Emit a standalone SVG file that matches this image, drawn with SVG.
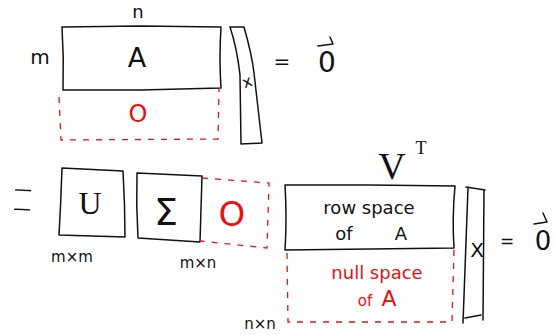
<svg xmlns="http://www.w3.org/2000/svg" width="554" height="335" viewBox="0 0 554 335">
<style>
.k{fill:none;stroke:#111;stroke-width:1.5;stroke-linejoin:round;stroke-linecap:round}
.r{fill:none;stroke:#e81010;stroke-width:1.3;stroke-dasharray:6 7}
.t{font-family:"DejaVu Sans","Liberation Sans",sans-serif;fill:#111;text-anchor:middle}
.tr{font-family:"DejaVu Sans","Liberation Sans",sans-serif;fill:#e81010;text-anchor:middle}
.s{font-family:"Liberation Serif",serif;fill:#111;text-anchor:middle}
</style>
<rect width="554" height="335" fill="#fff"/>
<g id="top-A">
<path class="k" d="M62,27 L140,26 L221,27 Q219,58 221,88 L140,90 L63,90 Q64,58 62,27 Z"/>
<text class="t" x="138" y="18" font-size="18">n</text>
<text class="t" x="40" y="64" font-size="20">m</text>
<text class="t" x="137" y="67" font-size="27">A</text>
</g>
<g id="top-zero-block">
<path class="r" d="M59,97 L61,140 L218,139 L219,88"/>
<text class="tr" x="138" y="122" font-size="24">O</text>
</g>
<g id="top-x">
<path class="k" d="M230,27 L244,27 Q252,55 254,73 L262,143 L241,144 L240,75 Q237,48 230,27 Z"/>
<text class="t" x="0" y="0" font-size="16" transform="translate(249,87) rotate(-20)">x</text>
</g>
<g id="top-eq">
<text class="t" x="282" y="68" font-size="20">=</text>
<text class="t" x="327" y="72" font-size="28">0</text>
<path class="k" d="M318,46 L333,44 L330,37"/>
</g>
<g id="eq2">
<text class="t" x="0" y="0" font-size="96" stroke="#fff" stroke-width="6.5" transform="translate(21,230) rotate(3) scale(0.3,1)">=</text>
</g>
<g id="U">
<path class="k" d="M62,168 L123,171 Q125,205 125,237 L59,235 Q61,200 62,168 Z"/>
<text class="s" x="90" y="214" font-size="32">U</text>
<text class="t" x="72" y="262" font-size="15">m×m</text>
</g>
<g id="Sigma">
<path class="k" d="M137,173 L202,176 Q201,210 200,242 L138,238 Q136,205 137,173 Z"/>
<text class="t" x="166" y="225" font-size="38">Σ</text>
<text class="t" x="198" y="268" font-size="15">m×n</text>
</g>
<g id="Sigma-zero">
<path class="r" d="M202,178 L269,183 L267,248 L200,241"/>
<text class="tr" x="232" y="226" font-size="34">O</text>
</g>
<g id="VT">
<text class="s" x="392" y="179" font-size="38">V</text>
<text class="s" x="421" y="154" font-size="18">T</text>
<path class="k" d="M285,185 L370,185 L455,186 Q452,218 454,248 L370,249 L285,250 Q287,218 285,185 Z"/>
<text class="t" x="369" y="214" font-size="18">row space</text>
<text class="t" y="240" font-size="18"><tspan x="344">of</tspan><tspan x="401">A</tspan></text>
</g>
<g id="nullspace">
<path class="r" d="M287,253 L288,322 L452,322 L454,250"/>
<text class="tr" x="377" y="279" font-size="18">null space</text>
<text class="tr" y="306" font-size="18"><tspan x="365" font-size="15">of</tspan><tspan x="389" font-size="22">A</tspan></text>
<text class="t" x="260" y="329" font-size="15">n×n</text>
</g>
<g id="bottom-x">
<path class="k" d="M466,187 L485,190 M468,188 L463,323 M484,190 L483,320 M465,318 L481,315"/>
<text class="t" x="477" y="257" font-size="20">X</text>
</g>
<g id="bottom-eq">
<text class="t" x="507" y="247" font-size="17">=</text>
<text class="t" x="543" y="250" font-size="26">0</text>
<path class="k" d="M534,224 L547,222 L543,213"/>
</g>
</svg>
